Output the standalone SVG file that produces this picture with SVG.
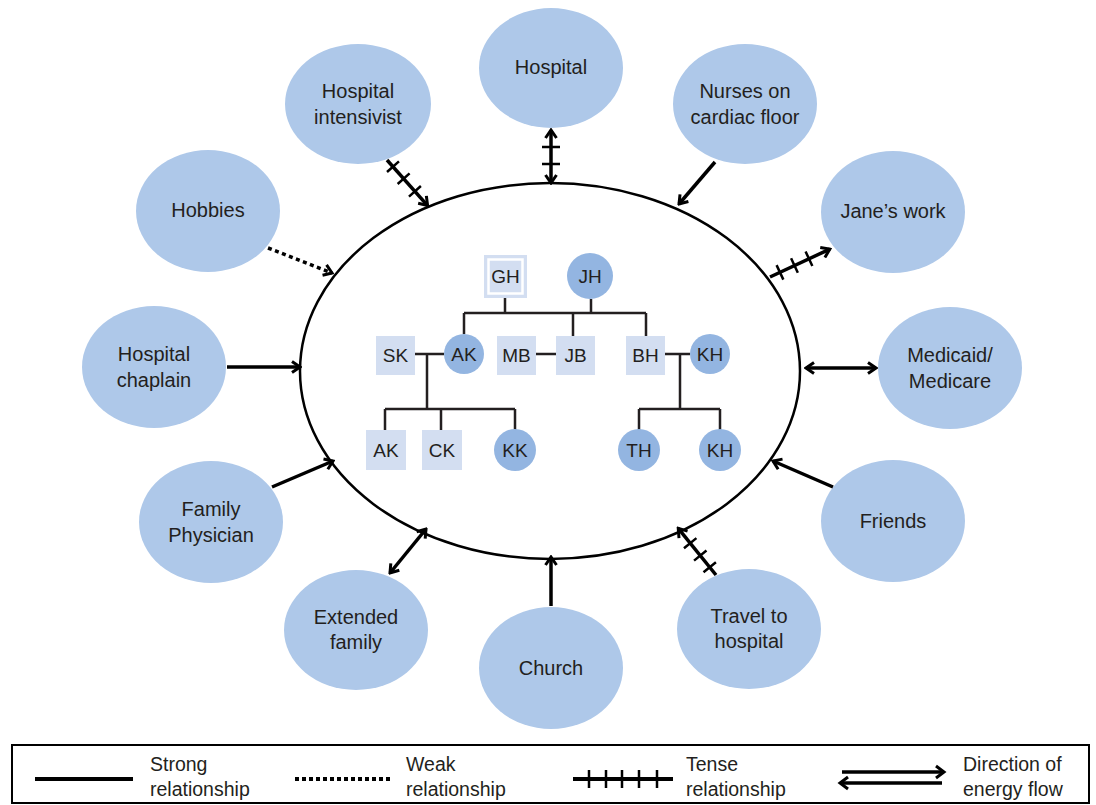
<svg xmlns="http://www.w3.org/2000/svg" width="1096" height="805" viewBox="0 0 1096 805">
  <style>
    .ctx { fill: #aec8e9; }
    .lbl { font-family: "Liberation Sans", Arial, sans-serif; font-size: 20px; fill: #231f20; text-anchor: middle; }
    .gtx { font-family: "Liberation Sans", Arial, sans-serif; font-size: 19px; fill: #231f20; text-anchor: middle; }
    .leg { font-family: "Liberation Sans", Arial, sans-serif; font-size: 19.5px; fill: #231f20; }
    .male { fill: #d3def1; }
    .female { fill: #93b5e1; }
    .kin { fill: none; stroke: #231f20; stroke-width: 2.5; }
    .rel { fill: none; stroke: #000; stroke-width: 3.5; }
    .weak { stroke-dasharray: 4 3.5; }
    .tick { stroke: #000; stroke-width: 2.5; }
    .arrow { marker-end: url(#ah); }
    .both { marker-start: url(#ah); marker-end: url(#ah); }
  </style>
  <defs>
    <marker id="ah" viewBox="0 0 14 14" markerWidth="14" markerHeight="14" refX="12" refY="7" orient="auto-start-reverse" markerUnits="userSpaceOnUse">
      <path d="M4,1.5 L12,7 L4,12.5" fill="none" stroke="#000" stroke-width="3"/>
    </marker>
  </defs>

  <rect width="1096" height="805" fill="#fff"/>

  <!-- household boundary -->
  <ellipse id="household" cx="550" cy="371" rx="250" ry="188" fill="none" stroke="#000" stroke-width="2.5"/>

  <!-- genogram inside the household -->
  <g id="genogram">
    <path class="kin" d="M505,298 V313 M591,299 V313 M464,313 H646 M464,313 V334 M573,313 V336 M646,313 V336"/>
    <path class="kin" d="M415,354 H444 M427,354 V409 M385,409 H515 M385,409 V430 M441,409 V430 M515,409 V430"/>
    <path class="kin" d="M536,354 H556"/>
    <path class="kin" d="M665,354 H690 M680,354 V409 M639,409 H720 M639,409 V430 M720,409 V430"/>

    <g id="p-gh">
      <rect class="male" x="484" y="255" width="43" height="43"/>
      <rect x="488.5" y="259.5" width="34" height="34" fill="none" stroke="#fff" stroke-width="2.5"/>
      <text class="gtx" x="505.5" y="283">GH</text>
    </g>
    <g id="p-jh">
      <circle class="female" cx="590" cy="276" r="23"/>
      <text class="gtx" x="590" y="283">JH</text>
    </g>
    <g id="p-sk">
      <rect class="male" x="376" y="336" width="39" height="39"/>
      <text class="gtx" x="395.5" y="362">SK</text>
    </g>
    <g id="p-ak1">
      <circle class="female" cx="464" cy="354" r="20"/>
      <text class="gtx" x="464" y="361">AK</text>
    </g>
    <g id="p-mb">
      <rect class="male" x="497" y="336" width="39" height="39"/>
      <text class="gtx" x="516.5" y="362">MB</text>
    </g>
    <g id="p-jb">
      <rect class="male" x="556" y="336" width="39" height="39"/>
      <text class="gtx" x="575.5" y="362">JB</text>
    </g>
    <g id="p-bh">
      <rect class="male" x="626" y="336" width="39" height="39"/>
      <text class="gtx" x="645.5" y="362">BH</text>
    </g>
    <g id="p-kh1">
      <circle class="female" cx="710" cy="354" r="20"/>
      <text class="gtx" x="710" y="361">KH</text>
    </g>
    <g id="p-ak2">
      <rect class="male" x="366" y="430" width="40" height="40"/>
      <text class="gtx" x="386" y="457">AK</text>
    </g>
    <g id="p-ck">
      <rect class="male" x="422" y="430" width="40" height="40"/>
      <text class="gtx" x="442" y="457">CK</text>
    </g>
    <g id="p-kk">
      <circle class="female" cx="515" cy="450" r="21"/>
      <text class="gtx" x="515" y="457">KK</text>
    </g>
    <g id="p-th">
      <circle class="female" cx="639" cy="450" r="21"/>
      <text class="gtx" x="639" y="457">TH</text>
    </g>
    <g id="p-kh2">
      <circle class="female" cx="720" cy="450" r="21"/>
      <text class="gtx" x="720" y="457">KH</text>
    </g>
  </g>

  <!-- outside systems -->
  <g id="n-hospital">
    <ellipse class="ctx" cx="551" cy="68" rx="72" ry="60"/>
    <text class="lbl" x="551" y="74">Hospital</text>
  </g>
  <g id="n-intensivist">
    <ellipse class="ctx" cx="358" cy="104" rx="73" ry="60"/>
    <text class="lbl" x="358" y="98">Hospital</text>
    <text class="lbl" x="358" y="124">intensivist</text>
  </g>
  <g id="n-nurses">
    <ellipse class="ctx" cx="745" cy="104" rx="72" ry="60"/>
    <text class="lbl" x="745" y="98">Nurses on</text>
    <text class="lbl" x="745" y="124">cardiac floor</text>
  </g>
  <g id="n-hobbies">
    <ellipse class="ctx" cx="208" cy="211" rx="72" ry="61"/>
    <text class="lbl" x="208" y="217">Hobbies</text>
  </g>
  <g id="n-work">
    <ellipse class="ctx" cx="893" cy="212" rx="72" ry="61"/>
    <text class="lbl" x="893" y="218">Jane’s work</text>
  </g>
  <g id="n-chaplain">
    <ellipse class="ctx" cx="154" cy="367" rx="72" ry="61"/>
    <text class="lbl" x="154" y="361">Hospital</text>
    <text class="lbl" x="154" y="387">chaplain</text>
  </g>
  <g id="n-medicaid">
    <ellipse class="ctx" cx="950" cy="368" rx="72" ry="61"/>
    <text class="lbl" x="950" y="362">Medicaid/</text>
    <text class="lbl" x="950" y="388">Medicare</text>
  </g>
  <g id="n-physician">
    <ellipse class="ctx" cx="211" cy="522" rx="72" ry="61"/>
    <text class="lbl" x="211" y="516">Family</text>
    <text class="lbl" x="211" y="542">Physician</text>
  </g>
  <g id="n-friends">
    <ellipse class="ctx" cx="893" cy="521" rx="72" ry="61"/>
    <text class="lbl" x="893" y="528">Friends</text>
  </g>
  <g id="n-extended">
    <ellipse class="ctx" cx="356" cy="630" rx="72" ry="60"/>
    <text class="lbl" x="356" y="624">Extended</text>
    <text class="lbl" x="356" y="649">family</text>
  </g>
  <g id="n-church">
    <ellipse class="ctx" cx="551" cy="668" rx="72" ry="61"/>
    <text class="lbl" x="551" y="675">Church</text>
  </g>
  <g id="n-travel">
    <ellipse class="ctx" cx="749" cy="629" rx="72" ry="60"/>
    <text class="lbl" x="749" y="623">Travel to</text>
    <text class="lbl" x="749" y="648">hospital</text>
  </g>

  <!-- relationship connectors -->
  <g id="connectors">
    <g transform="translate(387,160) rotate(48.3)">
      <line class="rel arrow" x1="0" y1="0" x2="61" y2="0"/>
      <path class="tick" d="M9,-8 V8 M25,-8 V8 M42,-8 V8"/>
    </g>
    <g transform="translate(551,130) rotate(90)">
      <line class="rel both" x1="0" y1="0" x2="53" y2="0"/>
      <path class="tick" d="M17,-9 V9 M34,-9 V9"/>
    </g>
    <line class="rel arrow" x1="715" y1="162" x2="679" y2="204"/>
    <line class="rel weak arrow" x1="268" y1="248" x2="332" y2="273"/>
    <g transform="translate(770,277) rotate(-25)">
      <line class="rel arrow" x1="0" y1="0" x2="66" y2="0"/>
      <path class="tick" d="M11,-8 V8 M27,-8 V8 M43,-8 V8"/>
    </g>
    <line class="rel arrow" x1="227" y1="367" x2="300" y2="367"/>
    <line class="rel both" x1="806" y1="368" x2="876" y2="368"/>
    <line class="rel arrow" x1="272" y1="487" x2="333" y2="461"/>
    <line class="rel arrow" x1="833" y1="487" x2="773" y2="461"/>
    <line class="rel both" x1="390" y1="573" x2="426" y2="529"/>
    <line class="rel arrow" x1="551" y1="606" x2="551" y2="557"/>
    <g transform="translate(716,575) rotate(-129)">
      <line class="rel arrow" x1="0" y1="0" x2="60" y2="0"/>
      <path class="tick" d="M10,-8 V8 M25,-8 V8 M41,-8 V8"/>
    </g>
  </g>

  <!-- key -->
  <g id="legend">
    <rect x="12" y="745" width="1077" height="58" fill="#fff" stroke="#000" stroke-width="2"/>
    <line x1="35" y1="779" x2="133" y2="779" stroke="#000" stroke-width="4"/>
    <text class="leg" x="150" y="771">Strong</text>
    <text class="leg" x="150" y="796">relationship</text>
    <line x1="295" y1="779" x2="390" y2="779" stroke="#000" stroke-width="4" stroke-dasharray="4 3"/>
    <text class="leg" x="406" y="771">Weak</text>
    <text class="leg" x="406" y="796">relationship</text>
    <line x1="573" y1="779" x2="673" y2="779" stroke="#000" stroke-width="4"/>
    <path class="tick" d="M589,770 V788 M606,770 V788 M622,770 V788 M639,770 V788 M657,770 V788"/>
    <text class="leg" x="686" y="771">Tense</text>
    <text class="leg" x="686" y="796">relationship</text>
    <line x1="842" y1="772" x2="944" y2="772" stroke="#000" stroke-width="3.5"/>
    <path d="M936,766 L944,772 L936,778" fill="none" stroke="#000" stroke-width="3"/>
    <line x1="840" y1="783" x2="942" y2="783" stroke="#000" stroke-width="3.5"/>
    <path d="M848,777 L840,783 L848,789" fill="none" stroke="#000" stroke-width="3"/>
    <text class="leg" x="963" y="771">Direction of</text>
    <text class="leg" x="963" y="796">energy flow</text>
  </g>
</svg>
